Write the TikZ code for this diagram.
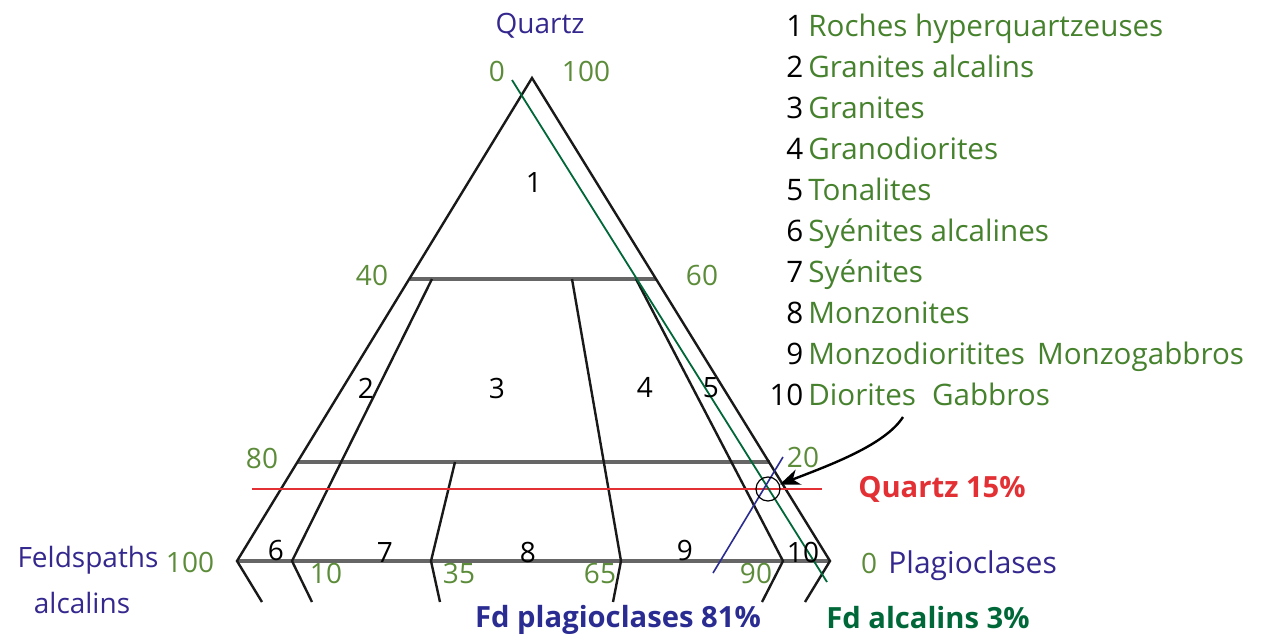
\documentclass[tikz,border=0pt]{standalone}
\usepackage{fontspec}
\setmainfont{Open Sans}
\usepackage{xcolor}
\usepackage{tikz}
\usetikzlibrary{arrows.meta,positioning}

\definecolor{qblue}{RGB}{52,40,142}
\definecolor{numgreen}{RGB}{92,140,58}
\definecolor{leggreen}{RGB}{70,130,45}
\definecolor{qred}{RGB}{226,48,52}
\definecolor{fdgreen}{RGB}{0,104,56}
\definecolor{fdblue}{RGB}{42,44,146}

\begin{document}
\begin{tikzpicture}[x=0.5pt, y=-0.5pt, font=\fontsize{14}{17}\selectfont,
    edge/.style={line width=1.2pt, black!90},
    bar/.style={line width=1.6pt, black!60},
    lbl/.style={inner sep=0pt, anchor=base},
    axnum/.style={lbl, text=numgreen},
    zone/.style={lbl, text=black},
    hot/.style={lbl, font=\fontsize{14.6}{17}\selectfont\bfseries},
    legrow/.style={inner sep=0pt, text height=10.5pt, text depth=3.5pt, font=\fontsize{14.8}{17}\selectfont}]

        \useasboundingbox (0,0) rectangle (1266,637);

        % Corners of the triangle (and the cut lower half below the base)
        \coordinate (apex) at (532,78);
        \coordinate (fa) at (237,561);
        \coordinate (falo) at (262,602);
        \coordinate (pl) at (830,561);
        \coordinate (pllo) at (805,602);

        % Quartz 60 and 20 lines
        \coordinate (q60l) at (410,279);
        \coordinate (q60r) at (656,279);
        \coordinate (q20l) at (298,462);
        \coordinate (q20r) at (770,462);

        % Plagioclase ratio lines: base point, top end, lower end
        \coordinate (k10) at (292,561);   \coordinate (k10hi) at (432,279); \coordinate (k10lo) at (312,602);
        \coordinate (k35) at (431,561);   \coordinate (k35hi) at (455,462); \coordinate (k35lo) at (440,602);
        \coordinate (k65) at (621,561);   \coordinate (k65hi) at (572,279); \coordinate (k65lo) at (613,602);
        \coordinate (k90) at (783,561);   \coordinate (k90hi) at (636,279); \coordinate (k90lo) at (762,602);

        % Frame
        \draw[bar] (fa) -- (pl);
        \draw[bar] (q60l) -- (q60r);
        \draw[bar] (q20l) -- (q20r);
        \draw[edge] (falo) -- (fa) -- (apex) -- (pl) -- (pllo);
        \draw[edge] (k10lo) -- (k10) -- (k10hi);
        \draw[edge] (k35lo) -- (k35) -- (k35hi);
        \draw[edge] (k65lo) -- (k65) -- (k65hi);
        \draw[edge] (k90lo) -- (k90) -- (k90hi);

        % Reading lines for the sample
        \coordinate (rq1) at (252,489);
        \coordinate (rq2) at (822,489);
        \coordinate (ga1) at (512,80);
        \coordinate (ga2) at (827,582);
        \coordinate (bp1) at (713,573);
        \coordinate (bp2) at (783,457);
        \draw[qred, line width=0.8pt] (rq1) -- (rq2);
        \draw[fdgreen, line width=0.9pt] (ga1) -- (ga2);
        \draw[fdblue, line width=0.8pt] (bp1) -- (bp2);

        % Sample point and arrow from the legend
        \node[draw, circle, line width=0.6pt, minimum size=12pt, inner sep=0pt] (hit) at (768,489) {};
        \coordinate (tail) at (903,417);
        \draw[-{Stealth[length=10pt, width=8pt, inset=3pt]}, line width=1.2pt] (tail) .. controls (885,445) and (830,465) .. (hit);

        % Corner and axis labels
        \node[lbl, text=qblue] (qz) at (540,33) {Quartz};
        \node[axnum] (q0) at (497,82) {0};
        \node[axnum] (q100) at (586,82) {100};
        \node[axnum] (n40) at (372,285) {40};
        \node[axnum] (n60) at (702,285) {60};
        \node[axnum] (n80) at (262,468) {80};
        \node[axnum] (n20) at (803,467) {20};
        \node[lbl, text=qblue] (fsp) at (88,567) {Feldspaths};
        \node[lbl, text=qblue] (alc) at (82,613) {alcalins};
        \node[axnum] (a100) at (190,572) {100};
        \node[axnum] (p0) at (869,573) {0};
        \node[lbl, text=qblue, anchor=base west, font=\fontsize{15}{17}\selectfont] (plag) at (888,573) {Plagioclases};
        \node[axnum] (n10) at (326,583) {10};
        \node[axnum] (n35) at (459,583) {35};
        \node[axnum] (n65) at (600,583) {65};
        \node[axnum] (n90) at (756,583) {90};

        % Field numbers
        \node[zone] (z1) at (534,192) {1};
        \node[zone] (z2) at (366,398) {2};
        \node[zone] (z3) at (497,398) {3};
        \node[zone] (z4) at (645,397) {4};
        \node[zone] (z5) at (711,397) {5};
        \node[zone] (z6) at (276,560) {6};
        \node[zone] (z7) at (385,562) {7};
        \node[zone] (z8) at (528,562) {8};
        \node[zone] (z9) at (685,560) {9};
        \node[zone] (z10) at (803,562) {10};

        % Sample readings
        \node[hot, text=qred] (q15) at (942,497) {Quartz 15\%};
        \node[hot, text=fdblue] (fdp) at (618,627) {Fd plagioclases 81\%};
        \node[hot, text=fdgreen] (fda) at (928,628) {Fd alcalins 3\%};

        % Legend (one row under the other)
        \node[legrow, anchor=base west] (leg1) at (763,37) {\makebox[20pt][r]{1}\hspace{2.5pt}\textcolor{leggreen}{Roches hyperquartzeuses}};
        \node[legrow, below=6.05pt of leg1.south west, anchor=north west] (leg2) {\makebox[20pt][r]{2}\hspace{2.5pt}\textcolor{leggreen}{Granites alcalins}};
        \node[legrow, below=6.05pt of leg2.south west, anchor=north west] (leg3) {\makebox[20pt][r]{3}\hspace{2.5pt}\textcolor{leggreen}{Granites}};
        \node[legrow, below=6.05pt of leg3.south west, anchor=north west] (leg4) {\makebox[20pt][r]{4}\hspace{2.5pt}\textcolor{leggreen}{Granodiorites}};
        \node[legrow, below=6.05pt of leg4.south west, anchor=north west] (leg5) {\makebox[20pt][r]{5}\hspace{2.5pt}\textcolor{leggreen}{Tonalites}};
        \node[legrow, below=6.05pt of leg5.south west, anchor=north west] (leg6) {\makebox[20pt][r]{6}\hspace{2.5pt}\textcolor{leggreen}{Syénites alcalines}};
        \node[legrow, below=6.05pt of leg6.south west, anchor=north west] (leg7) {\makebox[20pt][r]{7}\hspace{2.5pt}\textcolor{leggreen}{Syénites}};
        \node[legrow, below=6.05pt of leg7.south west, anchor=north west] (leg8) {\makebox[20pt][r]{8}\hspace{2.5pt}\textcolor{leggreen}{Monzonites}};
        \node[legrow, below=6.05pt of leg8.south west, anchor=north west] (leg9) {\makebox[20pt][r]{9}\hspace{2.5pt}\textcolor{leggreen}{Monzodioritites\hspace{6pt}Monzogabbros}};
        \node[legrow, below=6.05pt of leg9.south west, anchor=north west] (leg10) {\makebox[20pt][r]{10}\hspace{2.5pt}\textcolor{leggreen}{Diorites\hspace{8pt}Gabbros}};
    \end{tikzpicture}
\end{document}
